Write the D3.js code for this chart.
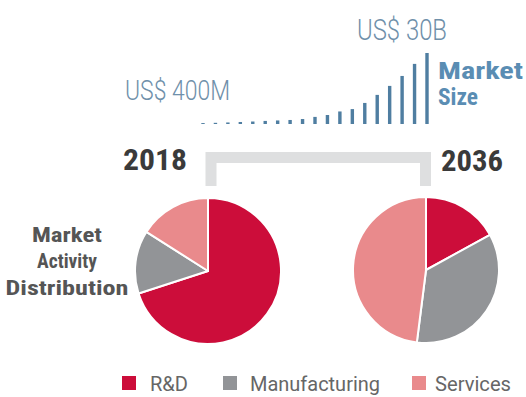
<!DOCTYPE html>
<html>
<head>
<meta charset="utf-8">
<script src="https://cdn.jsdelivr.net/npm/d3@7"></script>
<style>
  html, body { margin: 0; padding: 0; background: #ffffff; }
  svg { display: block; }
</style>
</head>
<body>
<svg id="chart" width="526" height="397"></svg>
<script>
// Market size by year, US$ billions
const years = [2018, 2019, 2020, 2021, 2022, 2023, 2024, 2025, 2026, 2027,
               2028, 2029, 2030, 2031, 2032, 2033, 2034, 2035, 2036];
const marketSize = [0.4, 0.5, 0.65, 0.85, 1.05, 1.3, 1.5, 1.7, 2.1, 3.0,
                    3.8, 5.3, 6.3, 8.9, 12.3, 16.1, 20.3, 25.4, 30];
const sizeLabels = ["US$ 400M", "US$ 30B"];

// Market activity distribution, percent
const categories = ["R&D", "Manufacturing", "Services"];
const share2018 = [70, 14, 16];
const share2036 = [17, 35, 48];
const pieYears = ["2018", "2036"];

const colors = ["#cc0d3a", "#929497", "#e98a8c"];
const condensed = "'Liberation Sans Narrow', 'Roboto Condensed', 'DejaVu Sans Condensed', 'Liberation Sans', sans-serif";
const light = "Roboto, 'Open Sans', sans-serif";

const svg = d3.select("#chart");

// ---- Market size mini bar chart ----
const x = d3.scalePoint().domain(years).range([203, 427]);
const y = d3.scaleLinear().domain([0, 30]).range([124, 53]);
const barW = 3.4;

svg.append("g")
  .selectAll("rect")
  .data(years.map((yr, i) => ({ yr, v: marketSize[i] })))
  .join("rect")
  .attr("x", d => x(d.yr) - barW / 2)
  .attr("y", d => y(d.v))
  .attr("width", barW)
  .attr("height", d => y(0) - y(d.v))
  .attr("fill", "#4f7ea1");

function fitText(sel, len) {
  sel.attr("textLength", len).attr("lengthAdjust", "spacingAndGlyphs");
  return sel;
}

fitText(svg.append("text")
  .attr("x", 125).attr("y", 100)
  .attr("font-family", light).attr("font-weight", 300)
  .attr("font-size", 28).attr("fill", "#6f90aa")
  .text(sizeLabels[0]), 105);

fitText(svg.append("text")
  .attr("x", 357).attr("y", 39.5)
  .attr("font-family", light).attr("font-weight", 300)
  .attr("font-size", 29).attr("fill", "#6f90aa")
  .text(sizeLabels[1]), 90);

fitText(svg.append("text")
  .attr("x", 438).attr("y", 79)
  .attr("font-family", condensed).attr("font-weight", 700)
  .attr("font-size", 23).attr("fill", "#5a8db3")
  .text("Market"), 85);

fitText(svg.append("text")
  .attr("x", 438).attr("y", 105)
  .attr("font-family", condensed).attr("font-weight", 700)
  .attr("font-size", 23).attr("fill", "#5a8db3")
  .text("Size"), 40);

// ---- Bracket linking the two years ----
svg.append("path")
  .attr("d", d3.line()([[211, 186], [211, 157.5], [425.5, 157.5], [425.5, 186]]))
  .attr("fill", "none")
  .attr("stroke", "#dedfe0")
  .attr("stroke-width", 11)
  .attr("stroke-linejoin", "miter");

fitText(svg.append("text")
  .attr("x", 123).attr("y", 170)
  .attr("font-family", condensed).attr("font-weight", 700)
  .attr("font-size", 30).attr("fill", "#3a3a3a")
  .text(pieYears[0]), 64);

fitText(svg.append("text")
  .attr("x", 441).attr("y", 171)
  .attr("font-family", condensed).attr("font-weight", 700)
  .attr("font-size", 30).attr("fill", "#3a3a3a")
  .text(pieYears[1]), 62);

// ---- Pies ----
const pie = d3.pie().sort(null).value(d => d);

function drawPie(values, cx, cy, r) {
  const arc = d3.arc().innerRadius(0).outerRadius(r);
  svg.append("g")
    .attr("transform", `translate(${cx},${cy})`)
    .selectAll("path")
    .data(pie(values))
    .join("path")
    .attr("d", arc)
    .attr("fill", (d, i) => colors[i])
    .attr("stroke", "#ffffff")
    .attr("stroke-width", 2)
    .attr("stroke-linejoin", "round");
}

drawPie(share2018, 208, 271, 73);
drawPie(share2036, 426, 270, 73);

// ---- Side label ----
const sideLines = ["Market", "Activity", "Distribution"];
const sideLens = [70, 60, 123];
const sideBase = [242, 268, 295];
sideLines.forEach((t, i) => {
  fitText(svg.append("text")
    .attr("x", 67 - sideLens[i] / 2).attr("y", sideBase[i])
    .attr("font-family", condensed).attr("font-weight", 700)
    .attr("font-size", 21).attr("fill", "#555555")
    .text(t), sideLens[i]);
});

// ---- Legend ----
const legendSwatchX = [122, 223, 412];
const legendTextX = [150, 250, 435];
const legendLens = [38, 130, 76];
const legend = svg.append("g");
categories.forEach((c, i) => {
  legend.append("rect")
    .attr("x", legendSwatchX[i]).attr("y", 376)
    .attr("width", 14).attr("height", 14)
    .attr("fill", colors[i]);
  fitText(legend.append("text")
    .attr("x", legendTextX[i]).attr("y", 391)
    .attr("font-family", light)
    .attr("font-size", 20).attr("fill", "#666666")
    .text(c), legendLens[i]);
});
</script>
</body>
</html>
